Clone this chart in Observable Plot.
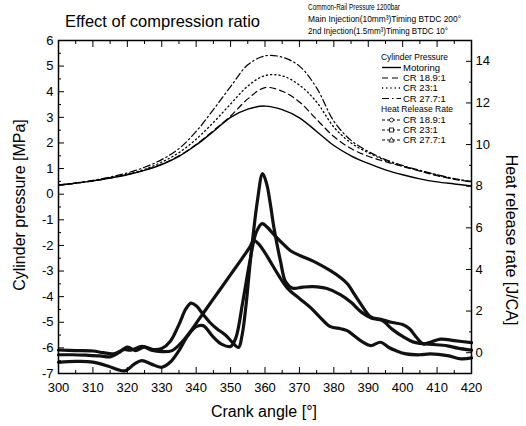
<!DOCTYPE html>
<html><head><meta charset="utf-8">
<script src="https://cdn.jsdelivr.net/npm/d3@7"></script>
<script src="https://cdn.jsdelivr.net/npm/@observablehq/plot@0.6"></script>
<style>body{margin:0;background:#fff;} svg{display:block}</style>
</head><body><div id="chart"></div>
<script>
// ---- data ----
const angles   = [300,305,310,315,320,325,330,335,340,345,350,355,360,365,370,375,380,385,390,395,400,405,410,415,420];
const motoring = [0.35,0.43,0.52,0.63,0.76,0.93,1.16,1.48,1.92,2.45,3.0,3.32,3.44,3.3,2.98,2.45,1.9,1.5,1.2,0.95,0.76,0.6,0.48,0.4,0.32];
const cr189    = [0.35,0.43,0.52,0.63,0.77,0.94,1.17,1.5,1.94,2.48,3.05,3.72,4.16,4.02,3.6,2.92,2.25,1.78,1.48,1.27,1.08,0.9,0.72,0.58,0.48];
const cr23     = [0.35,0.43,0.52,0.64,0.78,0.97,1.25,1.62,2.15,2.8,3.52,4.22,4.63,4.62,4.26,3.6,2.62,2.0,1.62,1.32,1.1,0.92,0.75,0.6,0.49];
const cr277    = [0.36,0.44,0.54,0.67,0.83,1.05,1.35,1.78,2.45,3.3,4.2,5.05,5.4,5.35,5.0,4.15,2.85,2.1,1.67,1.35,1.12,0.93,0.76,0.61,0.5];

const hrr189Angle = [300,305,310,314.5,317,319.4,322,324.2,327,330,332.5,335,337.5,340,342,345,347.5,350,351.5,353.5,355.5,357.5,359.2,360.5,363,365.4,367.4,370.3,374,379,382,384,386,388,390.7,393.6,397,400,402,404,406,408,411,415,420];
const hrr189      = [-0.47,-0.42,-0.45,-0.65,-0.8,-0.87,-0.55,-0.38,-0.55,-0.7,-0.45,0.1,0.8,1.25,1.3,0.75,0.4,0.3,0.7,2.4,4.3,5.8,6.2,6.05,5.6,5.2,4.9,4.66,4.4,3.94,3.6,3.3,2.8,2.3,1.72,1.6,1.45,1.35,1.15,0.74,0.42,0.5,0.65,0.58,0.48];
const hrr23Angle  = [300,305,310,313,316,319,321,324.3,327,330,333,335.5,338,341,344,347,350,353,355.5,356.8,358,360,362,364,366.5,370,373,376,379,382,384,386,388,390.7,393.6,396,398,401,405,408,413,417,420];
const hrr23       = [0.13,0.1,0.08,0.0,-0.05,0.15,0.12,0.3,0.12,0.05,0.1,0.45,0.95,1.65,2.35,3.05,3.75,4.45,5.05,5.4,5.25,4.8,4.25,3.7,3.1,2.6,2.2,1.7,1.25,1.15,1.05,0.8,0.55,0.34,0.5,0.25,0.1,-0.06,-0.1,-0.06,-0.14,-0.3,-0.25];
const hrr277Angle = [300,304,308,312,315,317.5,320,322.5,325,327.5,330,332.5,335,337,338.5,340,342,344,346,348.5,350.5,352.3,353.3,354.5,355.8,357.8,359.3,360.5,361.5,362.6,364.5,366,368,371,374,378,382,385,388,391,394,397,400,403,407,413,416,420];
const hrr277      = [-0.1,-0.1,-0.12,-0.15,-0.2,0.0,0.27,0.1,0.28,0.15,0.2,0.55,1.35,2.1,2.38,2.25,1.85,1.45,1.15,0.85,0.5,0.25,0.8,2.3,4.5,7.3,8.6,8.1,7.2,6.0,4.4,3.4,3.1,3.15,3.17,3.08,2.78,2.42,1.95,1.66,1.55,1.12,0.78,0.52,0.42,0.33,0.22,0.12];

const xTicks = [300,310,320,330,340,350,360,370,380,390,400,410,420];
const leftTicks = [-7,-6,-5,-4,-3,-2,-1,0,1,2,3,4,5,6];
const rightTicks = [0,2,4,6,8,10,12,14];
const pDomain = [-7, 6];
const hDomain = [-1, 15];
const titleText = "Effect of compression ratio";
const noteLines = ["Common-Rail Pressure 1200bar", "Main Injection(10mm³)Timing BTDC 200°", "2nd Injection(1.5mm³)Timing BTDC 10°"];
const xLabel = "Crank angle [°]";
const yLabel = "Cylinder pressure [MPa]";
const y2Label = "Heat release rate [J/CA]";

// ---- helpers ----
const k = (pDomain[1]-pDomain[0])/(hDomain[1]-hDomain[0]);
const toP = h => pDomain[0] + (h - hDomain[0]) * k;
const toH = p => hDomain[0] + (p - pDomain[0]) / k;
const rows = (xs, ys) => xs.map((a, i) => ({a, v: ys[i]}));

const pStyles = [
  {name: "Motoring", data: motoring, dash: null, w: 1.4},
  {name: "CR 18.9:1", data: cr189, dash: "6,4", w: 1.2},
  {name: "CR 23:1", data: cr23, dash: "1.2,3", w: 1.3},
  {name: "CR 27.7:1", data: cr277, dash: "7,3,1.5,3", w: 1.2}
];
const hSeries = [
  {name: "CR 18.9:1", xs: hrr189Angle, ys: hrr189},
  {name: "CR 23:1", xs: hrr23Angle, ys: hrr23},
  {name: "CR 27.7:1", xs: hrr277Angle, ys: hrr277}
];

const blank = () => "";
const marks = [];
for (const s of pStyles) {
  marks.push(Plot.line(rows(angles, s.data), {x: "a", y: "v", stroke: "#000", strokeWidth: s.w, strokeDasharray: s.dash, curve: "catmull-rom"}));
}
for (const s of hSeries) {
  marks.push(Plot.line(rows(s.xs, s.ys), {x: "a", y: d => toP(d.v), stroke: "#111", strokeWidth: 3.2, curve: "catmull-rom"}));
}
marks.push(
  Plot.frame({stroke: "#000", strokeWidth: 1.5}),
  Plot.axisX({anchor: "bottom", ticks: xTicks, tickSize: -6, tickPadding: 15, tickFormat: d => String(d), label: null}),
  Plot.axisX({anchor: "bottom", ticks: xTicks.slice(0, -1).map(d => d + 5), tickSize: -3, tickFormat: blank, label: null}),
  Plot.axisX({anchor: "top", ticks: xTicks, tickSize: -6, tickFormat: blank, label: null}),
  Plot.axisX({anchor: "top", ticks: xTicks.slice(0, -1).map(d => d + 5), tickSize: -3, tickFormat: blank, label: null}),
  Plot.axisY({anchor: "left", ticks: leftTicks, tickSize: -6, tickPadding: 11, tickFormat: d => String(d), label: null}),
  Plot.axisY({anchor: "left", ticks: leftTicks.slice(0, -1).map(d => d + 0.5), tickSize: -3, tickFormat: blank, label: null}),
  Plot.axisY({anchor: "right", ticks: rightTicks.map(toP), tickSize: -6, tickPadding: 10, tickFormat: v => String(Math.round(toH(v))), label: null}),
  Plot.axisY({anchor: "right", ticks: [-1,1,3,5,7,9,11,13,15].map(toP), tickSize: -3, tickFormat: blank, label: null})
);

const W = 526, H = 426;
const svg = Plot.plot({
  width: W, height: H,
  marginTop: 40, marginBottom: 53, marginLeft: 58, marginRight: 55,
  x: {domain: [300, 420]},
  y: {domain: pDomain},
  style: {fontFamily: "'Liberation Sans', Arial, sans-serif", fontSize: "13px", background: "#fff", color: "#000", overflow: "visible"},
  marks
});
document.getElementById("chart").appendChild(svg);

// ---- titles, notes, axis titles, legend ----
const g = d3.select(svg).append("g").attr("font-family", "'Liberation Sans', Arial, sans-serif").attr("fill", "#000").attr("text-anchor", "start");
g.append("text").attr("x", 65).attr("y", 27).attr("font-size", 16.5).text(titleText);
const noteW = [92, 153, 140];
noteLines.forEach((t, i) => {
  g.append("text").attr("x", 308).attr("y", 10 + i * 12).attr("font-size", 9)
    .attr("textLength", noteW[i]).attr("lengthAdjust", "spacingAndGlyphs").text(t);
});
g.append("text").attr("x", 264).attr("y", 417).attr("text-anchor", "middle").attr("font-size", 16).text(xLabel);
g.append("text").attr("transform", "translate(25,205) rotate(-90)").attr("text-anchor", "middle").attr("font-size", 16).text(yLabel);
g.append("text").attr("transform", "translate(506,240) rotate(90)").attr("text-anchor", "middle").attr("font-size", 16).text(y2Label);

// legend
const lg = g.append("g").attr("font-size", 9.5);
const rowY = [57, 67.5, 78, 88, 98.5, 109, 120, 130, 140];
const sx0 = 382, sx1 = 401, tx = 403;
lg.append("text").attr("x", 381).attr("y", rowY[0] + 3.3).attr("textLength", 67).attr("lengthAdjust", "spacingAndGlyphs").text("Cylinder Pressure");
pStyles.forEach((s, i) => {
  const y = rowY[i + 1];
  lg.append("line").attr("x1", sx0).attr("x2", sx1).attr("y1", y).attr("y2", y).attr("stroke", "#000").attr("stroke-width", s.w).attr("stroke-dasharray", s.dash);
  lg.append("text").attr("x", tx).attr("y", y + 3.3).text(s.name);
});
lg.append("text").attr("x", 381).attr("y", rowY[5] + 3.3).attr("textLength", 72).attr("lengthAdjust", "spacingAndGlyphs").text("Heat Release Rate");
const syms = ["circle", "square", "triangle"];
hSeries.forEach((s, i) => {
  const y = rowY[i + 6];
  lg.append("line").attr("x1", sx0).attr("x2", sx1).attr("y1", y).attr("y2", y).attr("stroke", "#000").attr("stroke-width", 1).attr("stroke-dasharray", "3,2");
  const cx = (sx0 + sx1) / 2;
  if (syms[i] === "circle") lg.append("circle").attr("cx", cx).attr("cy", y).attr("r", 2).attr("fill", "#fff").attr("stroke", "#000").attr("stroke-width", 0.8);
  else if (syms[i] === "square") lg.append("rect").attr("x", cx - 2).attr("y", y - 2).attr("width", 4).attr("height", 4).attr("fill", "#fff").attr("stroke", "#000").attr("stroke-width", 0.8);
  else lg.append("path").attr("d", `M${cx},${y - 2.5}L${cx + 2.5},${y + 2}L${cx - 2.5},${y + 2}Z`).attr("fill", "#fff").attr("stroke", "#000").attr("stroke-width", 0.8);
  lg.append("text").attr("x", tx).attr("y", y + 3.3).text(s.name);
});
</script></body></html>
